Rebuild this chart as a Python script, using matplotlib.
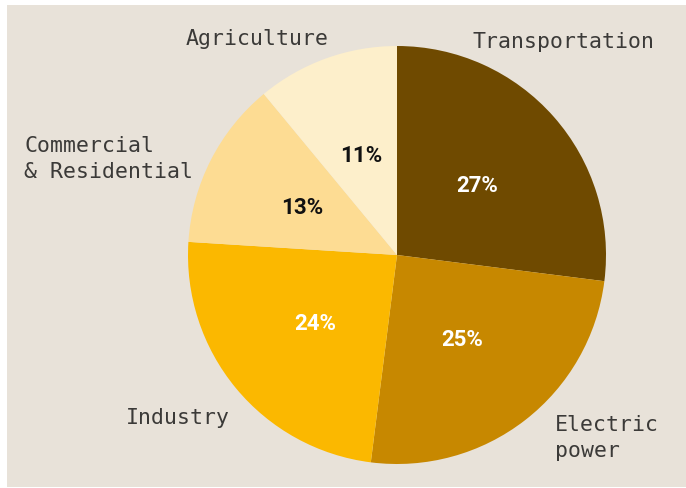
import matplotlib
matplotlib.use("Agg")
import matplotlib.pyplot as plt
from matplotlib.patches import Rectangle

# data (clockwise from 12 o'clock)
sectors = ["Transportation", "Electric\npower", "Industry",
           "Commercial\n& Residential", "Agriculture"]
shares = [27, 25, 24, 13, 11]
colors = ["#6f4a00", "#c78800", "#fbb800", "#fddc93", "#fdefcb"]
pct_colors = ["white", "white", "white", "#111111", "#111111"]

W, H = 686, 489
BG = "#e8e2d9"
TXT = "#3b3a38"

fig = plt.figure(figsize=(W / 100, H / 100), dpi=100, facecolor="white")
fig.patches.append(Rectangle((7 / W, 1 / H), (W - 7) / W, (H - 7) / H,
                             transform=fig.transFigure, facecolor=BG,
                             edgecolor="none", zorder=-10))

# pie centre / radius in pixels (from top-left)
cx, cy, r = 397, 256, 209
ax = fig.add_axes([(cx - r) / W, (H - cy - r) / H, 2 * r / W, 2 * r / H])
ax.set_zorder(5)
ax.patch.set_visible(False)
wedges, _, autotexts = ax.pie(
    shares, colors=colors, startangle=90, counterclock=False,
    autopct=lambda p: f"{p:.0f}%", pctdistance=0.51,
    wedgeprops=dict(linewidth=0, antialiased=True),
    textprops=dict(family=["Roboto", "DejaVu Sans"], fontweight="bold",
                   fontsize=16))
for t, c in zip(autotexts, pct_colors):
    t.set_color(c)
ax.set_xlim(-1, 1); ax.set_ylim(-1, 1); ax.set_aspect("equal")
ax.axis("off")

# outer labels (pixel anchors, alignment)
label_pos = {
    "Transportation": (473, 42, "left"),
    "Electric\npower": (555, 438, "left"),
    "Industry": (178, 418, "center"),
    "Commercial\n& Residential": (24, 159, "left"),
    "Agriculture": (257, 39, "center"),
}
for name in sectors:
    x, y, ha = label_pos[name]
    fig.text(x / W, 1 - y / H, name, ha=ha, va="center", color=TXT,
             family=["DejaVu Sans Mono"], fontsize=15.5, linespacing=1.4,
             zorder=6)

fig.savefig("out.png", dpi=100, facecolor="white")
